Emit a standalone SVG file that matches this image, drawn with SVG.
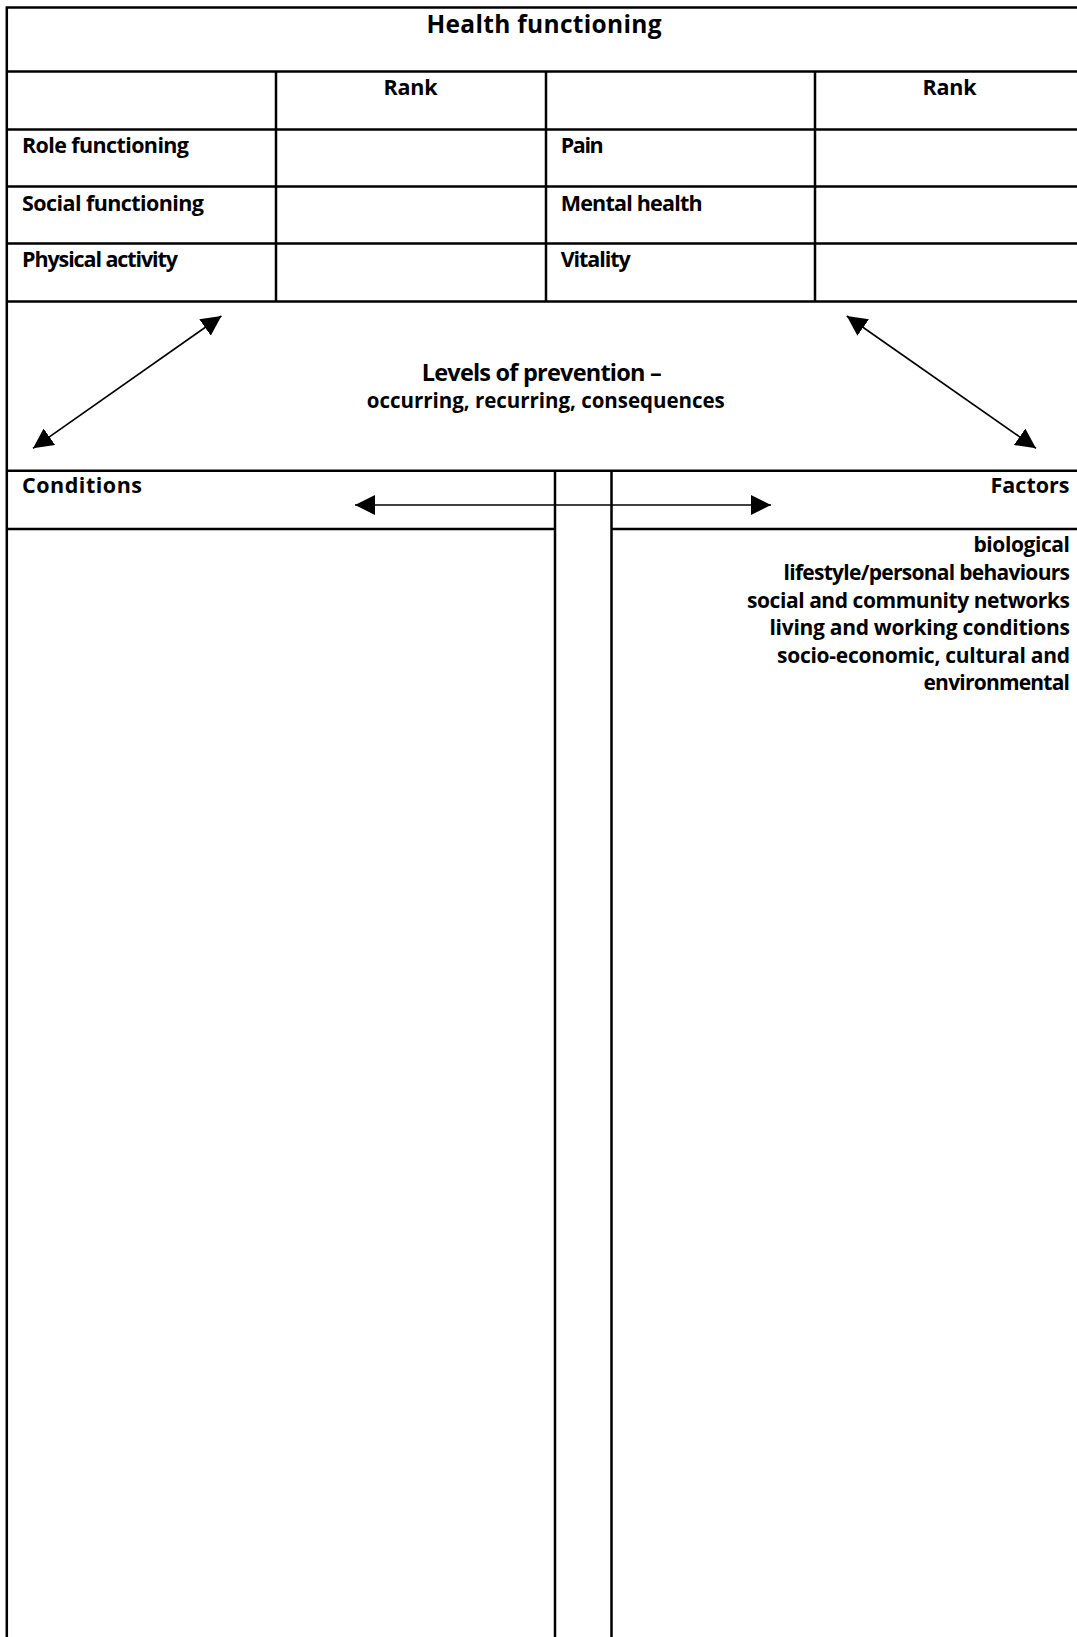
<svg xmlns="http://www.w3.org/2000/svg" width="1077" height="1637" viewBox="0 0 1077 1637">
<style>
.ln{stroke:#000;stroke-width:2.5;fill:none}
.ar{stroke:#000;stroke-width:1.6;fill:none}
text{font-family:"Open Sans","Noto Sans","Liberation Sans",sans-serif;font-weight:bold;fill:#000}
.h{font-size:24.5px}
.l{font-size:23.5px}
.t{font-size:21.5px}
.s{font-size:20.5px}
.f{font-size:21px}
.m{text-anchor:middle}
.e{text-anchor:end}
</style>
<defs>
<marker id="ah" markerUnits="userSpaceOnUse" viewBox="0 0 20 20" markerWidth="20" markerHeight="20" refX="20" refY="10" orient="auto-start-reverse">
<path d="M0,0 L20,10 L0,20 z" fill="#000"/>
</marker>
</defs>
<rect width="1077" height="1637" fill="#fff"/>
<g id="table-lines">
<path class="ln" d="M6.8,7.5 H1080 M6.8,6.3 V1640 M6.8,71.5 H1080 M6.8,129.5 H1080 M6.8,186.5 H1080 M6.8,243.5 H1080 M6.8,301.5 H1080 M276,71.5 V301.5 M546,71.5 V301.5 M815,71.5 V301.5 M6.8,470.7 H1080 M555,470.7 V1640 M611.5,470.7 V1640 M6.8,529 H555 M611.5,529 H1080"/>
</g>
<g id="title"><text class="h m" x="544" y="33.3" textLength="235" lengthAdjust="spacing">Health functioning</text></g>
<g id="rank-left"><text class="t m" x="410.5" y="95" textLength="54" lengthAdjust="spacing">Rank</text></g>
<g id="rank-right"><text class="t m" x="949.5" y="95" textLength="54" lengthAdjust="spacing">Rank</text></g>
<g id="role"><text class="t" x="22" y="153.3" textLength="167" lengthAdjust="spacing">Role functioning</text></g>
<g id="social"><text class="t" x="22" y="210.5" textLength="182" lengthAdjust="spacing">Social functioning</text></g>
<g id="physical"><text class="t" x="22" y="267" textLength="156" lengthAdjust="spacing">Physical activity</text></g>
<g id="pain"><text class="t" x="560.7" y="153.3" textLength="43" lengthAdjust="spacing">Pain</text></g>
<g id="mental"><text class="t" x="560.7" y="210.5" textLength="142" lengthAdjust="spacing">Mental health</text></g>
<g id="vitality"><text class="t" x="560.7" y="267" textLength="70" lengthAdjust="spacing">Vitality</text></g>
<g id="levels">
<text class="l m" x="541.7" y="380.7" textLength="240" lengthAdjust="spacing">Levels of prevention –</text>
<text class="s m" x="545.8" y="408.3" textLength="358" lengthAdjust="spacing">occurring, recurring, consequences</text>
</g>
<g id="conditions"><text class="t" x="22" y="493" textLength="120" lengthAdjust="spacing">Conditions</text></g>
<g id="factors">
<text class="t e" x="1069.5" y="493" textLength="79" lengthAdjust="spacing">Factors</text>
<text class="f e" x="1070" y="551.7" textLength="96.5" lengthAdjust="spacing">biological</text>
<text class="f e" x="1070" y="580" textLength="286.5" lengthAdjust="spacing">lifestyle/personal behaviours</text>
<text class="f e" x="1070" y="608.3" textLength="323" lengthAdjust="spacing">social and community networks</text>
<text class="f e" x="1070" y="635" textLength="300.5" lengthAdjust="spacing">living and working conditions</text>
<text class="f e" x="1070" y="663.3" textLength="293" lengthAdjust="spacing">socio-economic, cultural and</text>
<text class="f e" x="1070" y="690" textLength="146.5" lengthAdjust="spacing">environmental</text>
</g>
<g id="connectors">
<line class="ar" x1="33" y1="448.3" x2="221.4" y2="316" marker-start="url(#ah)" marker-end="url(#ah)"/>
<line class="ar" x1="846.8" y1="316" x2="1036" y2="448.3" marker-start="url(#ah)" marker-end="url(#ah)"/>
<line class="ar" x1="355" y1="505" x2="771" y2="505" marker-start="url(#ah)" marker-end="url(#ah)"/>
</g>
</svg>
